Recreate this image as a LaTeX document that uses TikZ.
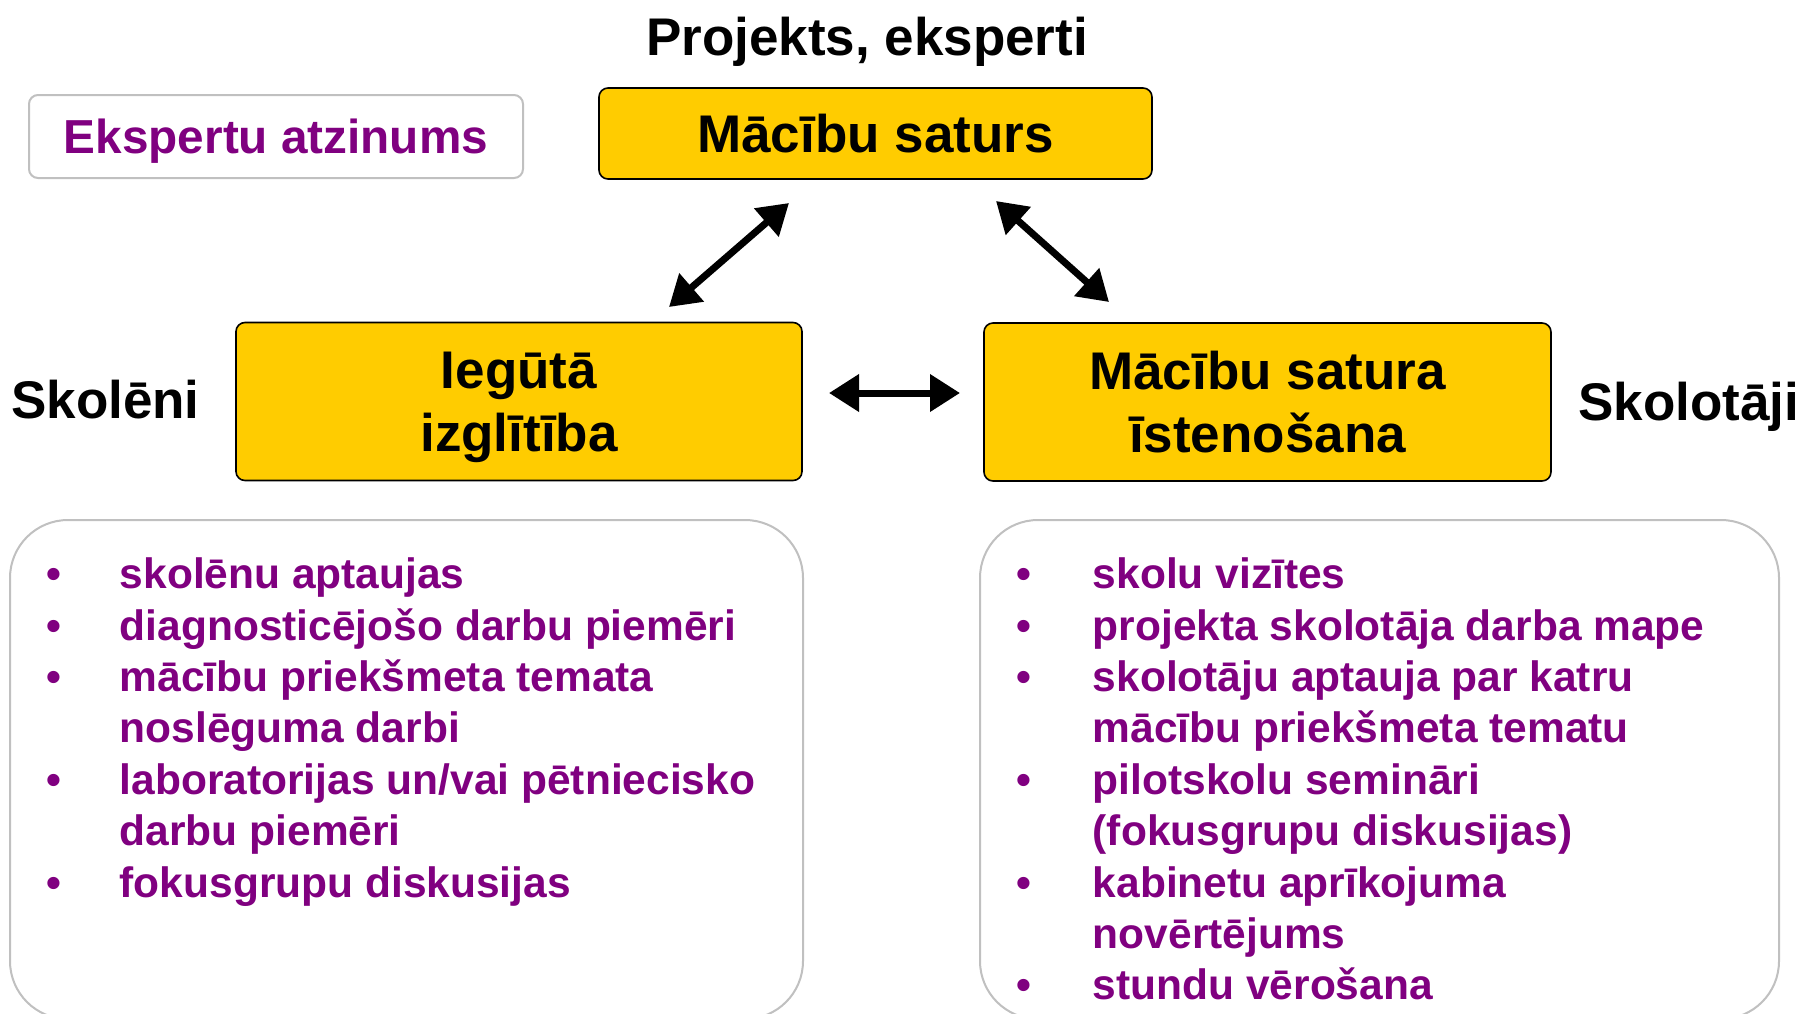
\documentclass[tikz,border=0pt]{standalone}
\usepackage{fontspec}
\setmainfont{Liberation Sans}
\usetikzlibrary{arrows.meta}
\definecolor{boxyellow}{HTML}{FFCC00}
\definecolor{listpurple}{HTML}{800080}
\definecolor{bordergrey}{HTML}{C0C0C0}
\newcommand{\dgBig}{\fontsize{53}{63}\selectfont\bfseries}
\newcommand{\dgMid}{\fontsize{47.7}{57}\selectfont\bfseries}
\newcommand{\dgList}{\fontsize{42.5}{51.4}\selectfont\bfseries}
\begin{document}
\begin{tikzpicture}[x=1pt,y=-1pt,
  ybox/.style={draw=black,line width=1.6pt,fill=boxyellow,rounded corners=9pt,inner sep=0pt,align=center,font=\dgBig},
  gbox/.style={draw=bordergrey,line width=2pt,fill=white,rounded corners=9pt,inner sep=0pt,font=\dgMid,text=listpurple,text depth=0pt},
  listbox/.style={draw=bordergrey,line width=2pt,fill=white,rounded corners=58pt,inner sep=0pt,anchor=north west},
  listtext/.style={inner sep=0pt,anchor=north west,font=\dgList,text=listpurple,align=left},
  sidelabel/.style={inner sep=0pt,anchor=base,font=\dgBig},
  dblarrow/.style={{Triangle[length=30pt,width=36pt]}-{Triangle[length=30pt,width=36pt]},line width=7pt,draw=black}
]
\useasboundingbox (0,0) rectangle (1802,1013);
\clip (0,0) rectangle (1802,1013);
\fill[white] (0,0) rectangle (1802,1013);

% title and side labels
\node[sidelabel] (title) at (867,55) {Projekts, eksperti};
\node[sidelabel,anchor=base west] (skoleni) at (11,418) {Skolēni};
\node[sidelabel,anchor=base west] (skolotaji) at (1578,420) {Skolotāji};

% boxes
\node[gbox,minimum width=494pt,minimum height=83pt] (eksp) at (276,136.5) {Ekspertu atzinums};
\node[ybox,minimum width=553pt,minimum height=91pt] (saturs) at (875.5,133.5) {Mācību saturs};
\node[ybox,minimum width=566pt,minimum height=158pt] (ieguta) at (519,401.5) {Iegūtā\\\smash{izglītība}};
\node[ybox,minimum width=567pt,minimum height=158pt] (istenosana) at (1267.5,402) {Mācību satura\\īstenošana};

% arrows
\coordinate (a1s) at (669,307);
\coordinate (a1e) at (789,203);
\coordinate (a2s) at (996,201);
\coordinate (a2e) at (1109,302);
\coordinate (a3s) at (829,393);
\coordinate (a3e) at (960,393);
\draw[dblarrow] (a1s) -- (a1e);
\draw[dblarrow] (a2s) -- (a2e);
\draw[dblarrow] (a3s) -- (a3e);

% list boxes
\node[listbox,minimum width=793pt,minimum height=499pt] (leftbox) at (9,519) {};
\node[listbox,minimum width=799pt,minimum height=499pt] (rightbox) at (979,519) {};

\node[listtext] (leftlist) at (46.6,552.5) {%
\begin{tabular}{@{}p{73pt}@{}l@{}}
• & skolēnu aptaujas\\
• & diagnosticējošo darbu piemēri\\
• & mācību priekšmeta temata\\
  & noslēguma darbi\\
• & laboratorijas un/vai pētniecisko\\
  & darbu piemēri\\
• & fokusgrupu diskusijas
\end{tabular}};

\node[listtext] (rightlist) at (1016.6,552.5) {%
\begin{tabular}{@{}p{76pt}@{}l@{}}
• & skolu vizītes\\
• & projekta skolotāja darba mape\\
• & skolotāju aptauja par katru\\
  & mācību priekšmeta tematu\\
• & pilotskolu semināri\\
  & (fokusgrupu diskusijas)\\
• & kabinetu aprīkojuma\\
  & novērtējums\\
• & stundu vērošana
\end{tabular}};
\end{tikzpicture}
\end{document}
